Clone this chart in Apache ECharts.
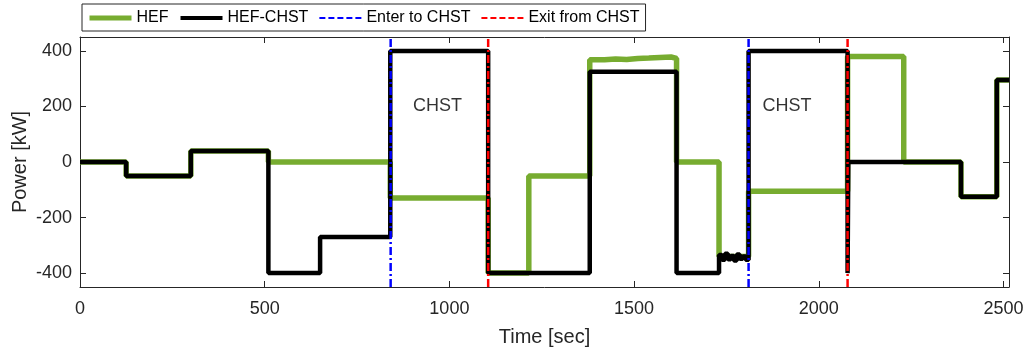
<!DOCTYPE html>
<html>
<head>
<meta charset="utf-8">
<script src="https://cdn.jsdelivr.net/npm/echarts@6/dist/echarts.min.js"></script>
<style>
  html, body { margin: 0; padding: 0; background: #fff; }
  #chart { width: 1025px; height: 352px; }
</style>
</head>
<body>
<div id="chart"></div>
<script>
// step series: each point starts a segment held until the next point's time
const hefTime = [0, 125, 300, 510, 840, 1105, 1215, 1380, 1420, 1450, 1480, 1510, 1540, 1570, 1600, 1615, 1730, 1810, 2078, 2230, 2385, 2482, 2515]
const hefPower = [0, -50, 40, 0, -130, -400, -50, 368, 371, 369, 373, 374, 376, 378, 373, 0, -340, -105, 380, 0, -125, 295, 295]

const chstTime = [0, 125, 300, 510, 650, 840, 1105, 1380, 1615, 1730, 1738, 1746, 1754, 1762, 1770, 1778, 1786, 1794, 1802, 1810, 2078, 2080, 2385, 2482, 2515]
const chstPower = [0, -50, 40, -400, -270, 400, -400, 325, -400, -335, -352, -330, -350, -338, -355, -333, -348, -340, -352, 400, -400, 0, -125, 295, 295]

const enterTimes = [841, 1810]
const exitTimes = [1105, 2078]
const chstLabelPos = [[968, 202], [1914, 202]]

const xTicks = [0, 500, 1000, 1500, 2000, 2500]
const yTicks = [-400, -200, 0, 200, 400]
const xMax = 2515
const yMin = -450
const yMax = 450

const pairs = (t, v) => t.map((x, i) => [x, v[i]])
const vlines = ts => {
  const out = []
  ts.forEach((t, i) => {
    if (i > 0) out.push([t, '-'])
    out.push([t, yMin], [t, yMax])
  })
  return out
}

const font = 'Liberation Sans, Arial, sans-serif'
const axisColor = '#262626'

const xBase = {
  type: 'value', min: 0, max: xMax,
  axisLine: { show: true, onZero: false, lineStyle: { color: axisColor } },
  axisTick: { show: true, inside: true, length: 6, customValues: xTicks, lineStyle: { color: axisColor } },
  splitLine: { show: false }
}
const yBase = {
  type: 'value', min: yMin, max: yMax,
  axisLine: { show: true, onZero: false, lineStyle: { color: axisColor } },
  axisTick: { show: true, inside: true, length: 6, customValues: yTicks, lineStyle: { color: axisColor } },
  splitLine: { show: false }
}

const chart = echarts.init(document.getElementById('chart'))
chart.setOption({
  animation: false,
  textStyle: { fontFamily: font },
  grid: { left: 80, right: 16, top: 37, bottom: 65, outerBoundsMode: 'none', containLabel: false },
  legend: {
    data: [
      { name: 'HEF', lineStyle: { width: 5 } },
      { name: 'HEF-CHST', lineStyle: { width: 4 } },
      { name: 'Enter to CHST', lineStyle: { width: 2, type: [6, 3] } },
      { name: 'Exit from CHST', lineStyle: { width: 2, type: [6, 3] } }
    ],
    left: 82, top: 4,
    padding: [6, 6, 5, 5],
    itemGap: 10, itemWidth: 42, itemHeight: 16,
    borderColor: '#262626', borderWidth: 1,
    itemStyle: { opacity: 0 },
    textStyle: { color: '#000', fontSize: 16, fontFamily: font }
  },
  xAxis: [
    {
      ...xBase, position: 'bottom',
      name: 'Time [sec]', nameLocation: 'middle', nameGap: 40, nameMoveOverlap: false,
      nameTextStyle: { color: axisColor, fontSize: 20, fontFamily: font },
      axisLabel: { customValues: xTicks, color: axisColor, fontSize: 18, margin: 13, fontFamily: font, formatter: v => String(v) }
    },
    { ...xBase, position: 'top', axisLabel: { show: false } }
  ],
  yAxis: [
    {
      ...yBase, position: 'left',
      name: 'Power [kW]', nameLocation: 'middle', nameGap: 50, nameMoveOverlap: false,
      nameTextStyle: { color: axisColor, fontSize: 20, fontFamily: font },
      axisLabel: { customValues: yTicks, color: axisColor, fontSize: 18, margin: 8, fontFamily: font, formatter: v => String(v) }
    },
    { ...yBase, position: 'right', axisLabel: { show: false } }
  ],
  series: [
    {
      name: 'HEF', type: 'line', step: 'end', showSymbol: false, symbol: 'none',
      data: pairs(hefTime, hefPower),
      lineStyle: { color: '#77AC30', width: 5.5 }, itemStyle: { color: '#77AC30' }
    },
    {
      name: 'HEF-CHST', type: 'line', step: 'end', showSymbol: false, symbol: 'none',
      data: pairs(chstTime, chstPower),
      lineStyle: { color: '#000', width: 4.5 }, itemStyle: { color: '#000' }
    },
    {
      name: 'Enter to CHST', type: 'line', showSymbol: false, symbol: 'none', connectNulls: false,
      data: vlines(enterTimes),
      lineStyle: { color: '#0000FF', width: 2.5, type: [8, 3, 2, 3] }, itemStyle: { color: '#0000FF' }
    },
    {
      name: 'Exit from CHST', type: 'line', showSymbol: false, symbol: 'none', connectNulls: false,
      data: vlines(exitTimes),
      lineStyle: { color: '#FF0000', width: 2.5, type: [8, 3, 2, 3] }, itemStyle: { color: '#FF0000' }
    },
    {
      name: 'labels', type: 'scatter', symbolSize: 0, silent: true,
      data: chstLabelPos,
      label: { show: true, formatter: 'CHST', position: 'inside', color: '#000', fontSize: 18, fontFamily: font }
    }
  ]
})
</script>
</body>
</html>
